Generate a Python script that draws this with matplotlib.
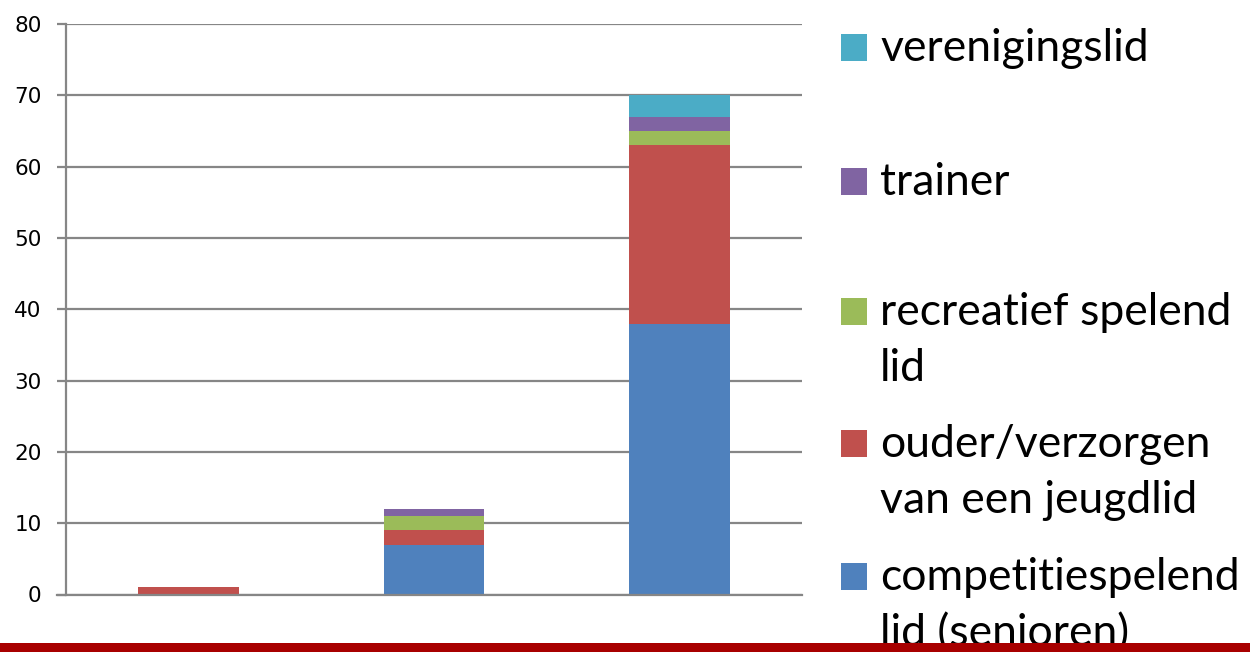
import matplotlib
matplotlib.use("Agg")
import matplotlib.pyplot as plt
from matplotlib.patches import Rectangle
import numpy as np

categories = ["A", "B", "C"]
series_names = [
    "competitiespelend\nlid (senioren)",
    "ouder/verzorgen\nvan een jeugdlid",
    "recreatief spelend\nlid",
    "trainer",
    "verenigingslid",
]
competitie = [0, 7, 38]
ouder = [1, 2, 25]
recreatief = [0, 2, 2]
trainer = [0, 1, 2]
vereniging = [0, 0, 3]
series_values = [competitie, ouder, recreatief, trainer, vereniging]
colors = ["#4F81BD", "#C0504D", "#9BBB59", "#8064A2", "#4BACC6"]
yticks = [0, 10, 20, 30, 40, 50, 60, 70, 80]

W, H = 1250, 652
fig = plt.figure(figsize=(12.5, 6.52), dpi=100)
ax = fig.add_axes([66 / W, 1 - 594.5 / H, (802 - 66) / W, (594.5 - 24) / H])

x = np.arange(len(categories))
bottom = np.zeros(len(categories))
for vals, col in zip(series_values, colors):
    ax.bar(x, vals, width=0.41, bottom=bottom, color=col, zorder=3, linewidth=0)
    bottom += np.array(vals)

grid_col = "#868686"
ax.set_xlim(-0.5, 2.5)
ax.set_ylim(0, 80)
ax.set_yticks(yticks)
ax.set_yticklabels([str(t) for t in yticks], fontsize=15.5, family="DejaVu Sans")
ax.set_xticks([])
ax.yaxis.grid(True, color=grid_col, linewidth=1.6, zorder=0)
ax.tick_params(axis="y", length=6.5, width=1.6, color=grid_col, pad=11)
for s in ["top", "right"]:
    ax.spines[s].set_visible(False)
ax.spines["left"].set_color(grid_col)
ax.spines["left"].set_linewidth(1.6)
ax.spines["bottom"].set_color(grid_col)
ax.spines["bottom"].set_linewidth(1.6)
ax.spines["bottom"].set_bounds(-0.5 - 9 / 245.3, 2.5)
ax.spines["bottom"].set_zorder(4)

# legend (reverse order, top to bottom)
baselines = [61, 195, 325, 457, 590]
line_gap = 56
for i, idx in enumerate(reversed(range(len(series_names)))):
    b = baselines[i]
    fig.patches.append(Rectangle((841 / W, 1 - b / H), 26 / W, 27 / H,
                                 transform=fig.transFigure, facecolor=colors[idx],
                                 edgecolor="none", zorder=2))
    for j, line in enumerate(series_names[idx].split("\n")):
        fig.text(880 / W, 1 - (b + j * line_gap) / H, line, fontsize=32,
                 family="Lato", va="baseline", ha="left", color="black", zorder=3)

fig.patches.append(Rectangle((0, 0), 1, 9 / H, transform=fig.transFigure,
                             facecolor="#A80000", edgecolor="none", zorder=10))

fig.savefig("out.png", dpi=100)
